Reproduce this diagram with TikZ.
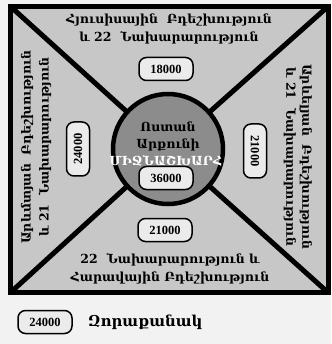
\documentclass[tikz,border=0pt]{standalone}
\usepackage{fontspec}
\setmainfont{Liberation Serif}
\newfontfamily\arm{DejaVu Serif}
\begin{document}
\begin{tikzpicture}[x=1pt,y=-1pt,
  numbox/.style={draw=black, line width=1.5pt, rounded corners=7.5pt, fill=white!92!black,
    minimum width=54pt, minimum height=23pt, inner sep=0pt, font=\bfseries\fontsize{12.5}{12.5}\selectfont},
  lbl/.style={font=\arm\bfseries\fontsize{12.5}{18}\selectfont, align=center, inner sep=0pt},
  thick line/.style={line width=5pt, draw=black},
]
\useasboundingbox (0,0) rectangle (331,344);
\fill[white!95!black] (0,0) rectangle (331,344);
\coordinate (nw) at (10.5,6.5);
\coordinate (se) at (328,292.5);
\coordinate (ne) at (328,6.5);
\coordinate (sw) at (10.5,292.5);
\draw[thick line, fill=black!22] (nw) rectangle (se);
\coordinate (ctr) at (168,149);
\draw[thick line] (nw) -- (ctr) -- (se);
\draw[thick line] (ne) -- (ctr) -- (sw);
\node[circle, draw=black, line width=4.5pt, fill=black!45, minimum size=110pt, inner sep=0pt] (c) at (ctr) {};
\node[lbl] (t) at (169,29) {Հյուսիսային\ \ Բդեշխություն\\և 22\ \ Նախարարություն};
\node[numbox] (b18) at (166,69) {18000};
\node[lbl, rotate=90] (l) at (36,147) {Արևմտյան\ \ Բդեշխություն\\և 21\ \ Նախարարություն};
\node[numbox, rotate=90] (b24) at (78,149) {24000};
\node[lbl, rotate=-90, font=\arm\bfseries\fontsize{12.5}{16}\selectfont] (r) at (298,157) {Արևելյան\ \ Բդեշխություն\\և 21\ \ Նախարարություն};
\node[numbox, rotate=-90] (b21r) at (255,151) {21000};
\node[numbox] (b21b) at (165,230) {21000};
\node[lbl] (bt) at (170,269) {22\ \ Նախարարություն և\\Հարավային Բդեշխություն};
\node[lbl] (c1) at (168,127) {Ոստան};
\node[lbl] (c2) at (168,145) {Արքունի};
\node[lbl, text=white] (c3) at (166,161) {ՄԻՋՆԱՇԽԱՐՀ};
\node[numbox] (b36) at (166,178) {36000};
\node[numbox] (leg) at (45,322) {24000};
\node[lbl, anchor=west, font=\arm\bfseries\fontsize{15}{15}\selectfont] (legt) at (88,322) {Զորաքանակ};
\end{tikzpicture}
\end{document}
